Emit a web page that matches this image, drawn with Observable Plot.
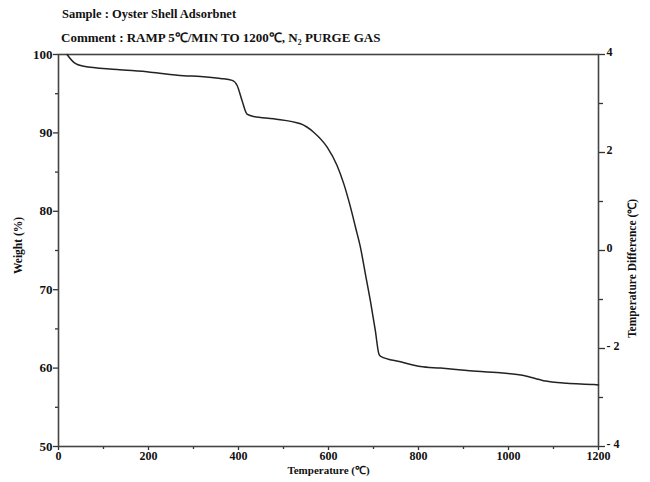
<!DOCTYPE html>
<html><head><meta charset="utf-8">
<script src="https://cdn.jsdelivr.net/npm/d3@7"></script>
<script src="https://cdn.jsdelivr.net/npm/@observablehq/plot@0.6"></script>
<style>
body{margin:0;background:#fff;}
#head{position:relative;width:650px;height:45px;font-family:"Liberation Serif","Times New Roman",serif;font-weight:bold;color:#111;}
#t1{position:absolute;left:62px;top:7px;font-size:12.5px;white-space:nowrap;}
#t2{position:absolute;left:61px;top:28px;font-size:13px;white-space:nowrap;}
#chart svg{display:block;}
</style></head>
<body>
<div id="head"><div id="t1"></div><div id="t2"></div></div>
<div id="chart"></div>
<script>
const sampleText = "Sample : Oyster Shell Adsorbnet";
const commentText = "Comment : RAMP 5℃/MIN TO 1200℃,  N₂ PURGE GAS";
const xLabel = "Temperature (℃)";
const yLabel = "Weight (%)";
const y2Label = "Temperature Difference (℃)";

// TGA curve
const temperature = [19, 34, 56, 130, 204, 278, 316, 360, 386, 397, 408, 419, 434, 478, 538, 567, 597, 619, 634, 649, 660, 671, 682, 693, 704, 712, 716, 760, 804, 849, 908, 982, 1034, 1078, 1130, 1190, 1200];
const weight      = [100, 99.0, 98.5, 98.1, 97.75, 97.3, 97.2, 96.95, 96.7, 96.05, 94.1, 92.4, 92.1, 91.8, 91.16, 90.09, 88.18, 85.84, 83.5, 80.5, 77.97, 75.4, 72.0, 68.6, 64.8, 61.8, 61.5, 60.8, 60.2, 60.0, 59.7, 59.4, 59.05, 58.4, 58.07, 57.9, 57.85];

const xTicks = [0, 200, 400, 600, 800, 1000, 1200];
const xMinorTicks = [100, 300, 500, 700, 900, 1100];
const yTicks = [50, 60, 70, 80, 90, 100];
const yMinorTicks = [55, 65, 75, 85, 95];
const y2Ticks = [-4, -2, 0, 2, 4];
const y2MinorTicks = [-3, -1, 1, 3];
const y2Domain = [-4, 4];

document.getElementById("t1").textContent = sampleText;
document.getElementById("t2").textContent = commentText;

const data = temperature.map((t, i) => ({t, w: weight[i]}));
// map right-axis values onto the weight scale
const toW = d => 50 + (d - y2Domain[0]) / (y2Domain[1] - y2Domain[0]) * 50;
const fmt2 = d => d < 0 ? "- " + Math.abs(d) : String(d);
const y2Map = new Map(y2Ticks.map(d => [toW(d), fmt2(d)]));

const ink = "#333";
const chart = Plot.plot({
  width: 650, height: 437,
  marginLeft: 58, marginRight: 52, marginTop: 9, marginBottom: 36,
  style: {fontFamily: '"Liberation Serif","Times New Roman",serif', fontWeight: "bold", fontSize: "13px", color: "#111", background: "transparent"},
  x: {domain: [0, 1200]},
  y: {domain: [50, 100]},
  marks: [
    Plot.axisX({ticks: xTicks, tickSize: 4, tickPadding: 1, fontSize: 12, tickFormat: d => String(d), label: null, stroke: ink, strokeWidth: 1.3}),
    Plot.axisX({ticks: xMinorTicks, tickSize: 3, tickFormat: () => "", label: null, stroke: ink, strokeWidth: 1.3}),
    Plot.axisY({ticks: yTicks, tickSize: 5, tickPadding: 1, tickFormat: d => String(d), label: null, stroke: ink, strokeWidth: 1.3}),
    Plot.axisY({ticks: yMinorTicks, tickSize: 3, tickFormat: () => "", label: null, stroke: ink, strokeWidth: 1.3}),
    Plot.axisY({anchor: "right", ticks: y2Ticks.map(toW), tickSize: 6, tickFormat: () => "", label: null, stroke: ink, strokeWidth: 1.3}),
    Plot.axisY({anchor: "right", ticks: y2Ticks.map(toW), tickSize: 0, tickPadding: 8, fontSize: 12, dy: -2, tickFormat: d => y2Map.get(d), label: null}),
    Plot.axisY({anchor: "right", ticks: y2MinorTicks.map(toW), tickSize: 4, tickFormat: () => "", label: null, stroke: ink, strokeWidth: 1.3}),
    Plot.frame({stroke: "#444", strokeWidth: 1.6}),
    Plot.line(data, {x: "t", y: "w", curve: "monotone-x", stroke: "#222", strokeWidth: 1.5}),
    Plot.text([xLabel], {frameAnchor: "bottom", dy: 27, textAnchor: "middle", text: d => d, fontSize: 11, fontWeight: "bold"}),
    Plot.text([yLabel], {frameAnchor: "left", dx: -40, dy: -5, rotate: -90, textAnchor: "middle", text: d => d, fontSize: 11.5, fontWeight: "bold"}),
    Plot.text([y2Label], {frameAnchor: "right", dx: 34, dy: 18, rotate: -90, textAnchor: "middle", text: d => d, fontSize: 11.5, fontWeight: "bold"})
  ]
});
document.getElementById("chart").appendChild(chart);
</script>
</body></html>
